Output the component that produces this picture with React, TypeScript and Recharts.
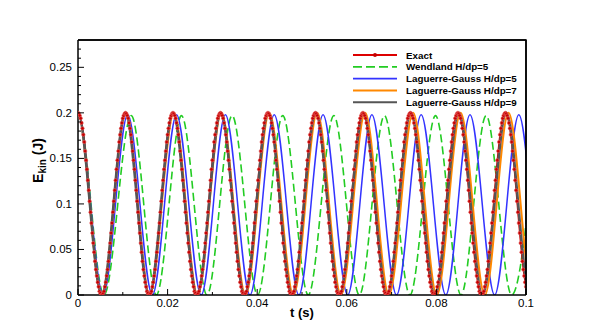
import React from 'react';
import { LineChart, Line, XAxis, YAxis, ReferenceLine } from 'recharts';

// Axis ticks
const X_TICKS = [0, 0.01, 0.02, 0.03, 0.04, 0.05, 0.06, 0.07, 0.08, 0.09, 0.1];
const X_LABELED = [0, 0.02, 0.04, 0.06, 0.08, 0.1];
const Y_TICKS = [0, 0.01, 0.02, 0.03, 0.04, 0.05, 0.06, 0.07, 0.08, 0.09, 0.1, 0.11, 0.12, 0.13, 0.14, 0.15, 0.16, 0.17, 0.18, 0.19, 0.2, 0.21, 0.22, 0.23, 0.24, 0.25, 0.26, 0.27];
const Y_LABELED = [0, 0.05, 0.1, 0.15, 0.2, 0.25];
const X_MAX = 0.1;
const Y_MAX = 0.28;

// Exact solution: energy sampled every EXACT_DT seconds (red markers)
const EXACT_DT = 0.0002;
const EXACT_E = [
0.2,0.199,0.197,0.194,0.189,0.183,0.176,0.168,0.158,0.148,0.138,0.126,0.115,0.103,0.091,0.079,0.068,0.057,0.047,0.037,0.028,0.021,0.014,0.009,0.004,0.002,0,0,0.002,0.004,0.009,0.014,0.021,0.028,0.037,0.047,0.057,0.068,0.079,0.091,0.103,0.115,0.126,0.138,0.148,0.158,0.168,0.176,0.183,0.189,0.194,0.197,0.199,
0.2,0.199,0.197,0.194,0.189,0.183,0.176,0.168,0.158,0.148,0.138,0.126,0.115,0.103,0.091,0.079,0.068,0.057,0.047,0.037,0.028,0.021,0.014,0.009,0.004,0.002,0,0,0.002,0.004,0.009,0.014,0.021,0.028,0.037,0.047,0.057,0.068,0.079,0.091,0.103,0.115,0.126,0.138,0.148,0.158,0.168,0.176,0.183,0.189,0.194,0.197,0.199,
0.2,0.199,0.197,0.194,0.189,0.183,0.176,0.168,0.158,0.148,0.138,0.126,0.115,0.103,0.091,0.079,0.068,0.057,0.047,0.037,0.028,0.021,0.014,0.009,0.004,0.002,0,0,0.002,0.004,0.009,0.014,0.021,0.028,0.037,0.047,0.057,0.068,0.079,0.091,0.103,0.115,0.126,0.138,0.148,0.158,0.168,0.176,0.183,0.189,0.194,0.197,0.199,
0.2,0.199,0.197,0.194,0.189,0.183,0.176,0.168,0.158,0.148,0.138,0.126,0.115,0.103,0.091,0.079,0.068,0.057,0.047,0.037,0.028,0.021,0.014,0.009,0.004,0.002,0,0,0.002,0.004,0.009,0.014,0.021,0.028,0.037,0.047,0.057,0.068,0.079,0.091,0.103,0.115,0.126,0.138,0.148,0.158,0.168,0.176,0.183,0.189,0.194,0.197,0.199,
0.2,0.199,0.197,0.194,0.189,0.183,0.176,0.168,0.158,0.148,0.138,0.126,0.115,0.103,0.091,0.079,0.068,0.057,0.047,0.037,0.028,0.021,0.014,0.009,0.004,0.002,0,0,0.002,0.004,0.009,0.014,0.021,0.028,0.037,0.047,0.057,0.068,0.079,0.091,0.103,0.115,0.126,0.138,0.148,0.158,0.168,0.176,0.183,0.189,0.194,0.197,0.199,
0.2,0.199,0.197,0.194,0.189,0.183,0.176,0.168,0.158,0.148,0.138,0.126,0.115,0.103,0.091,0.079,0.068,0.057,0.047,0.037,0.028,0.021,0.014,0.009,0.004,0.002,0,0,0.002,0.004,0.009,0.014,0.021,0.028,0.037,0.047,0.057,0.068,0.079,0.091,0.103,0.115,0.126,0.138,0.148,0.158,0.168,0.176,0.183,0.189,0.194,0.197,0.199,
0.2,0.199,0.197,0.194,0.189,0.183,0.176,0.168,0.158,0.148,0.138,0.126,0.115,0.103,0.091,0.079,0.068,0.057,0.047,0.037,0.028,0.021,0.014,0.009,0.004,0.002,0,0,0.002,0.004,0.009,0.014,0.021,0.028,0.037,0.047,0.057,0.068,0.079,0.091,0.103,0.115,0.126,0.138,0.148,0.158,0.168,0.176,0.183,0.189,0.194,0.197,0.199,
0.2,0.199,0.197,0.194,0.189,0.183,0.176,0.168,0.158,0.148,0.138,0.126,0.115,0.103,0.091,0.079,0.068,0.057,0.047,0.037,0.028,0.021,0.014,0.009,0.004,0.002,0,0,0.002,0.004,0.009,0.014,0.021,0.028,0.037,0.047,0.057,0.068,0.079,0.091,0.103,0.115,0.126,0.138,0.148,0.158,0.168,0.176,0.183,0.189,0.194,0.197,0.199,
0.2,0.199,0.197,0.194,0.189,0.183,0.176,0.168,0.158,0.148,0.138,0.126,0.115,0.103,0.091,0.079,0.068,0.057,0.047,0.037,0.028,0.021,0.014,0.009,0.004,0.002,0,0,0.002,0.004,0.009,0.014,0.021,0.028,0.037,0.047,0.057,0.068,0.079,0.091,0.103,0.115,0.126,0.138,0.148,0.158,0.168,0.176,0.183,0.189,0.194,0.197,0.199,
0.2,0.199,0.197,0.194,0.189,0.183,0.176,0.168,0.158,0.148,0.138,0.126,0.115,0.103,0.091,0.079,0.068,0.057,0.047,0.037,0.028,0.021,0.014,0.009,
];

// Turning points (t, E) of each SPH curve
const WEND_T = [-0.0058, 0, 0.0058, 0.0119, 0.0175, 0.0231, 0.0288, 0.0344, 0.0401, 0.0457, 0.0514, 0.0571, 0.0628, 0.0684, 0.0741, 0.0798, 0.0855, 0.0911, 0.0968, 0.1024];
const WEND_E = [0, 0.2, 0, 0.197, 0, 0.197, 0, 0.197, 0, 0.197, 0, 0.197, 0, 0.197, 0, 0.197, 0, 0.197, 0, 0.197];
const LG5_T = [-0.0055, 0, 0.0056, 0.0111, 0.0166, 0.022, 0.0275, 0.0329, 0.0384, 0.0438, 0.0493, 0.0547, 0.0602, 0.0656, 0.0711, 0.0766, 0.0821, 0.0875, 0.093, 0.0984, 0.1039, 0.1093];
const LG5_E = [0, 0.2, 0, 0.198, 0, 0.198, 0, 0.198, 0, 0.198, 0, 0.198, 0, 0.198, 0, 0.198, 0, 0.198, 0, 0.198, 0, 0.198];
const LG7_T = [-0.0053, 0, 0.0053, 0.0107, 0.016, 0.0214, 0.0267, 0.032, 0.0374, 0.0427, 0.0481, 0.0534, 0.0587, 0.0641, 0.0694, 0.0748, 0.0801, 0.0854, 0.0908, 0.0961, 0.1015, 0.1068];
const LG7_E = [0, 0.2, 0, 0.2, 0, 0.2, 0, 0.2, 0, 0.2, 0, 0.2, 0, 0.2, 0, 0.2, 0, 0.2, 0, 0.2, 0, 0.2];
const LG9_T = [-0.0053, 0, 0.0053, 0.0106, 0.0159, 0.0212, 0.0266, 0.0319, 0.0372, 0.0425, 0.0478, 0.0531, 0.0584, 0.0637, 0.069, 0.0743, 0.0797, 0.085, 0.0903, 0.0956, 0.1009, 0.1062];
const LG9_E = [0, 0.2, 0, 0.2, 0, 0.2, 0, 0.2, 0, 0.2, 0, 0.2, 0, 0.2, 0, 0.2, 0, 0.2, 0, 0.2, 0, 0.2];

const NAMES = ['Exact', 'Wendland H/dp=5', 'Laguerre-Gauss H/dp=5', 'Laguerre-Gauss H/dp=7', 'Laguerre-Gauss H/dp=9'];

const W = 598, H = 333;
const M = { top: 40, right: 72, left: 28, bottom: 8 };
const YW = 50, XH = 30;
const FONT = '"Liberation Sans", Arial, sans-serif';
const COL = { exact: '#dd0000', dot: '#c40000', wend: '#22cc22', lg5: '#3333ff', lg7: '#ff8800', lg9: '#555555' };

const rowsOf = (ts: number[], es: number[]) => ts.map((t, i) => ({ t, e: es[i] }));
const exactRows = EXACT_E.map((e, i) => ({ t: i * EXACT_DT, e }));
const near = (list: number[], v: number) => list.some((l) => Math.abs(l - v) < 1e-9);

function XTick(p: any) {
  const major = near(X_LABELED, p.payload.value);
  return (
    <g>
      <line x1={p.x} x2={p.x} y1={p.y} y2={p.y - (major ? 6 : 3)} stroke="#000" />
      {major ? <text x={p.x} y={p.y + 12} textAnchor="middle" fontSize={11.5} fontFamily={FONT}>{String(p.payload.value)}</text> : null}
    </g>
  );
}

function YTick(p: any) {
  const major = near(Y_LABELED, p.payload.value);
  return (
    <g>
      <line x1={p.x} x2={p.x + (major ? 6 : 3)} y1={p.y} y2={p.y} stroke="#000" />
      {major ? <text x={p.x - 6} y={p.y + 4} textAnchor="end" fontSize={11.5} fontFamily={FONT}>{String(p.payload.value)}</text> : null}
    </g>
  );
}

function XTitle(p: any) {
  const vb = p.viewBox;
  return <text x={vb.x + vb.width / 2} y={vb.y + 22} textAnchor="middle" fontSize={13} fontWeight="bold" fontFamily={FONT}>t (s)</text>;
}

function YTitle(p: any) {
  const vb = p.viewBox;
  const cx = vb.x + 15, cy = vb.y + vb.height / 2 - 7;
  return (
    <text x={cx} y={cy} transform={`rotate(-90 ${cx} ${cy})`} textAnchor="middle" fontSize={14} fontWeight="bold" fontFamily={FONT}>
      E<tspan fontSize={10} dy={3}>kin</tspan><tspan dy={-3}> (J)</tspan>
    </text>
  );
}

function Overlay() {
  const left = M.left + YW, right = W - M.right, top = M.top, bottom = H - M.bottom - XH;
  const ys = [55, 66.8, 78.6, 90.4, 102.2];
  const st = [
    { c: COL.exact, w: 1.8, d: undefined as any, dot: true },
    { c: COL.wend, w: 1.8, d: '9 4', dot: false },
    { c: COL.lg5, w: 1.8, d: undefined, dot: false },
    { c: COL.lg7, w: 2, d: undefined, dot: false },
    { c: COL.lg9, w: 2, d: undefined, dot: false },
  ];
  return (
    <svg width={W} height={H} style={{ position: 'absolute', left: 0, top: 0, pointerEvents: 'none' }}>
      <path d={`M${left},${top}H${right}V${bottom}`} fill="none" stroke="#000" strokeWidth={1.5} />
      {NAMES.map((n, i) => (
        <g key={n}>
          <line x1={353} x2={397} y1={ys[i]} y2={ys[i]} stroke={st[i].c} strokeWidth={st[i].w} strokeDasharray={st[i].d} />
          {st[i].dot ? <circle cx={375} cy={ys[i]} r={2} fill={COL.dot} /> : null}
          <text x={406} y={ys[i] + 3.6} fontSize={9.8} fontWeight="bold" fontFamily={FONT}>{n}</text>
        </g>
      ))}
    </svg>
  );
}

export default function App() {
  return (
    <div style={{ position: 'relative', width: W, height: H, margin: -8, background: '#fff' }}>
      <LineChart width={W} height={H} margin={M}>
        <XAxis type="number" dataKey="t" domain={[0, X_MAX]} allowDataOverflow ticks={X_TICKS} interval={0}
          tickSize={0} tickMargin={0} tickLine={false} tick={<XTick />} height={XH}
          axisLine={{ stroke: '#000', strokeWidth: 1.5 }} label={<XTitle />} />
        <YAxis type="number" domain={[0, Y_MAX]} allowDataOverflow ticks={Y_TICKS} interval={0}
          tickSize={0} tickMargin={0} tickLine={false} tick={<YTick />} width={YW}
          axisLine={{ stroke: '#000', strokeWidth: 1.5 }} label={<YTitle />} />
        <Line data={rowsOf(WEND_T, WEND_E)} dataKey="e" name={NAMES[1]} type="monotone" stroke={COL.wend} strokeWidth={1.6} strokeDasharray="8 4" dot={false} isAnimationActive={false} />
        <Line data={rowsOf(LG5_T, LG5_E)} dataKey="e" name={NAMES[2]} type="monotone" stroke={COL.lg5} strokeWidth={1.5} dot={false} isAnimationActive={false} />
        <Line data={rowsOf(LG7_T, LG7_E)} dataKey="e" name={NAMES[3]} type="monotone" stroke={COL.lg7} strokeWidth={2} dot={false} isAnimationActive={false} />
        <Line data={exactRows} dataKey="e" name={NAMES[0]} type="linear" stroke={COL.exact} strokeWidth={1.5} dot={false} isAnimationActive={false} />
        <Line data={rowsOf(LG9_T, LG9_E)} dataKey="e" name={NAMES[4]} type="monotone" stroke={COL.lg9} strokeWidth={2.6} dot={false} isAnimationActive={false} />
        <Line data={exactRows} dataKey="e" name="Exact markers" legendType="none" type="linear" stroke="none" strokeWidth={0}
          dot={{ r: 1.7, fill: COL.dot, stroke: '#e86060', strokeWidth: 0.6 }} isAnimationActive={false} />
        <ReferenceLine y={Y_MAX} stroke="#000" strokeWidth={1.5} ifOverflow="visible" />
        <ReferenceLine x={X_MAX} stroke="#000" strokeWidth={1.5} ifOverflow="visible" />
      </LineChart>
      <Overlay />
    </div>
  );
}
